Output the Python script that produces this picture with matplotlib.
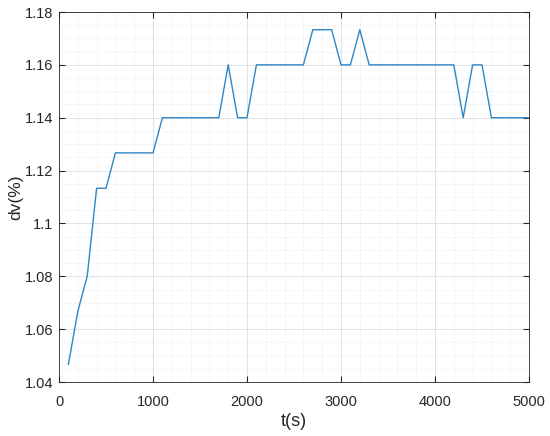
import matplotlib.pyplot as plt
from matplotlib.ticker import MultipleLocator, FuncFormatter

plt.rcParams['font.family'] = ['Liberation Sans', 'DejaVu Sans']

t = [100, 200, 300, 400, 500, 600, 700, 800, 900, 1000,
     1100, 1200, 1300, 1400, 1500, 1600, 1700, 1800, 1900, 2000,
     2100, 2200, 2300, 2400, 2500, 2600, 2700, 2800, 2900, 3000,
     3100, 3200, 3300, 3400, 3500, 3600, 3700, 3800, 3900, 4000,
     4100, 4200, 4300, 4400, 4500, 4600, 4700, 4800, 4900, 5000]
dv = [1.0467, 1.0667, 1.08, 1.1133, 1.1133, 1.1267, 1.1267, 1.1267, 1.1267, 1.1267,
      1.14, 1.14, 1.14, 1.14, 1.14, 1.14, 1.14, 1.16, 1.14, 1.14,
      1.16, 1.16, 1.16, 1.16, 1.16, 1.16, 1.1733, 1.1733, 1.1733, 1.16,
      1.16, 1.1733, 1.16, 1.16, 1.16, 1.16, 1.16, 1.16, 1.16, 1.16,
      1.16, 1.16, 1.14, 1.16, 1.16, 1.14, 1.14, 1.14, 1.14, 1.14]

fig = plt.figure(figsize=(5.5, 4.36), dpi=100)
ax = fig.add_axes([59 / 550, 1 - 382 / 436, 470 / 550, 370 / 436])

ax.plot(t, dv, color='#2f86c6', linewidth=1.0)

ax.set_xlim(0, 5000)
ax.set_ylim(1.04, 1.18)
ax.xaxis.set_major_locator(MultipleLocator(1000))
ax.xaxis.set_minor_locator(MultipleLocator(200))
ax.yaxis.set_major_locator(MultipleLocator(0.02))
ax.yaxis.set_minor_locator(MultipleLocator(0.005))
ax.yaxis.set_major_formatter(FuncFormatter(lambda v, p: '%g' % round(v, 4)))

ax.grid(which='major', color='#dcdcdc', linewidth=0.6, linestyle='-')
ax.grid(which='minor', color='#e4e4e4', linewidth=0.6, linestyle=':')
ax.set_axisbelow(True)

ax.tick_params(which='both', direction='in', top=True, right=True,
               labelsize=10.5, color='#262626', labelcolor='#262626')
ax.tick_params(which='minor', length=0)
ax.tick_params(which='major', length=4)
ax.tick_params(axis='x', pad=9)
ax.tick_params(axis='y', pad=4)
for s in ax.spines.values():
    s.set_color('#262626')
    s.set_linewidth(0.6)

ax.set_xlabel('t(s)', fontsize=13, color='#262626', labelpad=3)
ax.set_ylabel('dv(%)', fontsize=12.5, color='#262626', labelpad=1)

fig.savefig('out.png', dpi=100)
